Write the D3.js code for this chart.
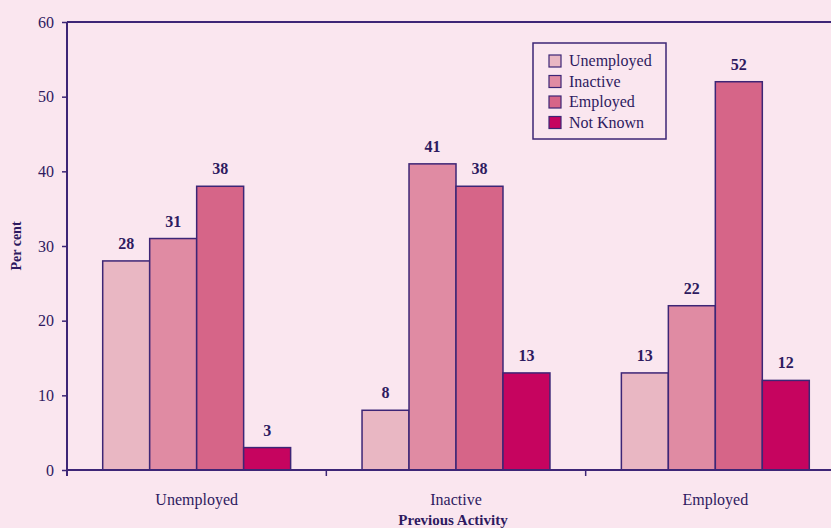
<!DOCTYPE html>
<html>
<head>
<meta charset="utf-8">
<script src="https://cdn.jsdelivr.net/npm/d3@7"></script>
<style>
  html, body { margin: 0; padding: 0; background: #fae6ef; }
  svg { display: block; }
  text { font-family: "Liberation Serif", "DejaVu Serif", serif; fill: #2e1a60; }
</style>
</head>
<body>
<svg id="chart" width="831" height="528"></svg>
<script>
// Previous activity groups and the current-status series
const categories = ["Unemployed", "Inactive", "Employed"];
const seriesNames = ["Unemployed", "Inactive", "Employed", "Not Known"];
const unemployedValues = [28, 8, 13];
const inactiveValues = [31, 41, 22];
const employedValues = [38, 38, 52];
const notKnownValues = [3, 13, 12];
const yTicks = [0, 10, 20, 30, 40, 50, 60];

const seriesValues = [unemployedValues, inactiveValues, employedValues, notKnownValues];
const colors = ["#e9b7c3", "#e08ba3", "#d66588", "#c6045f"];
const ink = "#3d2676";

const svg = d3.select("#chart");
const margin = { left: 67, top: 22, bottom: 58 };
const plotRight = 845; // the plot continues past the right edge
const height = 528;

const x0 = d3.scaleBand().domain(categories).range([margin.left, plotRight]).padding(0);
const x1 = d3.scaleBand().domain(seriesNames).range([0, x0.bandwidth()])
  .paddingInner(0).paddingOuter(0.76);
const y = d3.scaleLinear().domain([0, 60]).range([height - margin.bottom, margin.top]);

// bars
const groups = svg.append("g").selectAll("g")
  .data(categories)
  .join("g")
  .attr("transform", d => `translate(${x0(d)},0)`);

groups.selectAll("rect")
  .data((c, i) => seriesNames.map((s, k) => ({ s, v: seriesValues[k][i], k })))
  .join("rect")
  .attr("x", d => x1(d.s))
  .attr("y", d => y(d.v))
  .attr("width", x1.bandwidth())
  .attr("height", d => y(0) - y(d.v))
  .attr("fill", d => colors[d.k])
  .attr("stroke", ink)
  .attr("stroke-width", 1.5);

groups.selectAll("text.val")
  .data((c, i) => seriesNames.map((s, k) => ({ s, v: seriesValues[k][i], k })))
  .join("text")
  .attr("class", "val")
  .attr("x", d => x1(d.s) + x1.bandwidth() / 2)
  .attr("y", d => y(d.v) - 12)
  .attr("text-anchor", "middle")
  .attr("font-size", 16)
  .attr("font-weight", "bold")
  .text(d => d.v);

// top border of the plot
svg.append("line")
  .attr("x1", margin.left).attr("x2", plotRight)
  .attr("y1", y(60)).attr("y2", y(60))
  .attr("stroke", ink).attr("stroke-width", 2);

// y axis
const yAxis = svg.append("g")
  .attr("transform", `translate(${margin.left},0)`)
  .call(d3.axisLeft(y).tickValues(yTicks).tickSize(5).tickPadding(8));
yAxis.select(".domain").attr("stroke", ink).attr("stroke-width", 2)
  .attr("d", `M0,${y(0) + 6}V${y(60)}`);
yAxis.selectAll(".tick line").attr("stroke", ink).attr("stroke-width", 1.5);
yAxis.selectAll(".tick text").attr("font-size", 16).attr("fill", "#2e1a60")
  .attr("font-family", "Liberation Serif, serif");

// x axis with ticks at group boundaries
const xAxisG = svg.append("g").attr("transform", `translate(0,${y(0)})`);
xAxisG.append("line")
  .attr("x1", margin.left).attr("x2", plotRight)
  .attr("stroke", ink).attr("stroke-width", 2);
xAxisG.selectAll("line.tk")
  .data(categories.slice(1))
  .join("line")
  .attr("class", "tk")
  .attr("x1", d => x0(d)).attr("x2", d => x0(d))
  .attr("y1", 0).attr("y2", 6)
  .attr("stroke", ink).attr("stroke-width", 1.5);
xAxisG.selectAll("text")
  .data(categories)
  .join("text")
  .attr("x", d => x0(d) + x0.bandwidth() / 2)
  .attr("y", 35)
  .attr("text-anchor", "middle")
  .attr("font-size", 16)
  .text(d => d);

// axis titles
svg.append("text")
  .attr("x", x0("Inactive") + x0.bandwidth() / 2 - 3)
  .attr("y", 525)
  .attr("text-anchor", "middle")
  .attr("font-size", 15)
  .attr("font-weight", "bold")
  .text("Previous Activity");

svg.append("text")
  .attr("transform", `translate(21,${(y(0) + y(60)) / 2}) rotate(-90)`)
  .attr("text-anchor", "middle")
  .attr("font-size", 14)
  .attr("font-weight", "bold")
  .text("Per cent");

// legend
const legend = svg.append("g").attr("transform", "translate(533,43)");
legend.append("rect")
  .attr("width", 133).attr("height", 96)
  .attr("fill", "none").attr("stroke", ink).attr("stroke-width", 1.5);
const items = legend.selectAll("g")
  .data(seriesNames)
  .join("g")
  .attr("transform", (d, i) => `translate(16,${12 + i * 20.5})`);
items.append("rect")
  .attr("width", 12).attr("height", 12)
  .attr("fill", (d, i) => colors[i])
  .attr("stroke", ink).attr("stroke-width", 1.2);
items.append("text")
  .attr("x", 20).attr("y", 11)
  .attr("font-size", 16)
  .text(d => d);
</script>
</body>
</html>
